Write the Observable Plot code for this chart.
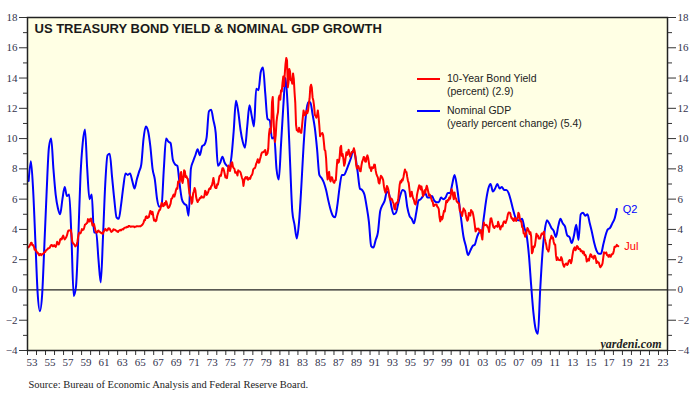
<!DOCTYPE html>
<html><head><meta charset="utf-8">
<script src="https://cdn.jsdelivr.net/npm/d3@7"></script>
<script src="https://cdn.jsdelivr.net/npm/@observablehq/plot@0.6"></script>
<style>
body{margin:0;background:#fff;}
#wrap{position:relative;width:700px;height:396px;overflow:hidden;}
.legend{position:absolute;left:417px;top:72px;font-family:"Liberation Sans",Arial,sans-serif;font-size:10.5px;color:#222;}
.item{position:relative;padding-left:30px;line-height:13px;margin-bottom:6px;}
.sw{position:absolute;left:0;top:6px;width:23px;height:2px;}
</style></head><body><div id="wrap"></div>
<script>
// ---- data ----
const titleText = "US TREASURY BOND YIELD & NOMINAL GDP GROWTH";
const sourceText = "Source: Bureau of Economic Analysis and Federal Reserve Board.";
const brandText = "yardeni.com";
const seriesNames = ["10-Year Bond Yield", "Nominal GDP"];
const seriesSubs = ["(percent) (2.9)", "(yearly percent change) (5.4)"];
const endLabels = ["Jul", "Q2"];
const seriesColors = ["#ff0000", "#0000ff"];

// 10-year Treasury yield, monthly, from Jan 1953
const yieldStart = 1953;
const bondYield = [
2.80,2.83,2.89,2.98,3.10,3.12,2.95,2.97,2.87,2.66,2.68,2.59,
2.48,2.47,2.37,2.29,2.37,2.38,2.30,2.36,2.38,2.43,2.48,2.51,
2.61,2.65,2.68,2.75,2.76,2.78,2.90,2.97,2.97,2.88,2.89,2.96,
2.90,2.84,2.96,3.18,3.07,3.00,3.11,3.33,3.38,3.34,3.49,3.59,
3.46,3.34,3.41,3.48,3.60,3.80,3.93,3.93,3.92,3.97,3.72,3.21,
3.09,3.05,2.98,2.88,2.92,2.97,3.20,3.54,3.76,3.80,3.74,3.86,
4.02,3.96,3.99,4.12,4.31,4.34,4.40,4.43,4.68,4.53,4.53,4.69,
4.72,4.49,4.25,4.28,4.35,4.15,3.90,3.80,3.80,3.89,3.93,3.84,
3.84,3.78,3.74,3.78,3.71,3.88,3.92,4.04,3.98,3.92,3.94,4.06,
4.08,4.04,3.93,3.84,3.87,3.91,4.01,3.98,3.98,3.93,3.92,3.86,
3.83,3.92,3.93,3.97,3.93,3.99,4.02,4.00,4.08,4.11,4.12,4.13,
4.17,4.15,4.22,4.23,4.20,4.17,4.19,4.19,4.20,4.19,4.15,4.18,
4.19,4.21,4.21,4.20,4.21,4.21,4.20,4.25,4.29,4.35,4.45,4.62,
4.61,4.83,4.87,4.75,4.78,4.81,5.02,5.22,5.18,5.01,5.16,4.84,
4.58,4.63,4.54,4.59,4.85,5.02,5.16,5.28,5.30,5.48,5.75,5.70,
5.53,5.56,5.74,5.64,5.87,5.72,5.50,5.42,5.46,5.58,5.70,6.03,
6.04,6.19,6.30,6.17,6.32,6.57,6.72,6.69,7.16,7.10,7.14,7.65,
7.79,7.24,7.07,7.39,7.91,7.84,7.46,7.53,7.39,7.33,6.84,6.39,
6.24,6.11,5.70,5.83,6.39,6.52,6.73,6.58,6.14,5.93,5.81,5.93,
5.95,6.08,6.07,6.19,6.13,6.11,6.11,6.21,6.55,6.48,6.28,6.36,
6.46,6.64,6.71,6.67,6.85,6.90,7.13,7.40,7.09,6.79,6.73,6.74,
6.99,6.96,7.21,7.51,7.58,7.54,7.81,8.04,8.04,7.90,7.68,7.43,
7.50,7.39,7.73,8.23,8.06,7.86,8.06,8.40,8.43,8.14,8.05,8.00,
7.74,7.79,7.73,7.56,7.90,7.86,7.83,7.77,7.59,7.41,7.29,6.87,
7.21,7.39,7.46,7.37,7.46,7.28,7.33,7.40,7.34,7.52,7.58,7.69,
7.96,8.03,8.04,8.15,8.35,8.46,8.64,8.41,8.42,8.64,8.81,9.01,
9.10,9.10,9.12,9.18,9.25,8.91,8.95,9.03,9.33,10.30,10.65,10.39,
10.80,12.41,12.75,11.47,10.18,9.78,10.25,11.10,11.51,11.75,12.68,12.84,
12.57,13.19,13.12,13.68,14.10,13.47,14.28,14.94,15.32,15.15,13.39,13.72,
14.59,14.43,13.86,13.87,13.62,14.30,13.95,13.06,12.34,10.91,10.55,10.54,
10.46,10.72,10.51,10.40,10.38,10.85,11.38,11.85,11.65,11.54,11.69,11.83,
11.67,11.84,12.32,12.63,13.41,13.56,13.36,12.72,12.52,12.16,11.57,11.50,
11.38,11.51,11.86,11.43,10.85,10.16,10.31,10.33,10.37,10.24,9.78,9.26,
9.19,8.70,7.78,7.30,7.71,7.80,7.30,7.17,7.45,7.43,7.25,7.11,
7.08,7.25,7.25,8.02,8.61,8.40,8.45,8.76,9.42,9.52,8.86,8.99,
8.67,8.21,8.37,8.72,9.09,8.92,9.06,9.26,8.98,8.80,8.96,9.11,
9.09,9.17,9.36,9.18,8.86,8.28,8.02,8.11,8.19,8.01,7.87,7.84,
8.21,8.47,8.59,8.79,8.76,8.48,8.47,8.75,8.89,8.72,8.39,8.08,
8.09,7.85,8.11,8.04,8.07,8.28,8.27,7.90,7.65,7.53,7.42,7.09,
7.03,7.34,7.54,7.48,7.39,7.26,6.84,6.59,6.42,6.59,6.87,6.77,
6.60,6.26,5.98,5.97,6.04,5.96,5.81,5.68,5.36,5.33,5.72,5.77,
5.75,5.97,6.48,6.97,7.18,7.10,7.30,7.24,7.46,7.74,7.96,7.81,
7.78,7.47,7.20,7.06,6.63,6.17,6.28,6.49,6.20,6.04,5.93,5.71,
5.65,5.81,6.27,6.51,6.74,6.91,6.87,6.64,6.83,6.53,6.20,6.30,
6.58,6.42,6.69,6.89,6.71,6.49,6.22,6.30,6.21,6.03,5.88,5.81,
5.54,5.57,5.65,5.64,5.65,5.50,5.46,5.34,4.81,4.53,4.83,4.65,
4.72,5.00,5.23,5.18,5.54,5.90,5.79,5.94,5.92,6.11,6.03,6.28,
6.66,6.52,6.26,5.99,6.44,6.10,6.05,5.83,5.80,5.74,5.72,5.24,
5.16,5.10,4.89,5.14,5.39,5.28,5.24,4.97,4.73,4.57,4.65,5.09,
5.04,4.91,5.28,5.21,5.16,4.93,4.65,4.26,3.87,3.94,4.05,4.03,
4.05,3.90,3.81,3.96,3.57,3.33,3.98,4.45,4.27,4.29,4.30,4.27,
4.15,4.08,3.83,4.35,4.72,4.73,4.50,4.28,4.13,4.10,4.19,4.23,
4.22,4.17,4.50,4.34,4.14,4.00,4.18,4.26,4.20,4.46,4.54,4.47,
4.42,4.57,4.72,4.99,5.11,5.11,5.09,4.88,4.72,4.73,4.60,4.56,
4.76,4.72,4.56,4.69,4.75,5.10,5.00,4.67,4.52,4.53,4.15,4.10,
3.74,3.74,3.51,3.68,3.88,4.10,4.01,3.89,3.69,3.81,3.53,2.42,
2.52,2.87,2.82,2.93,3.29,3.72,3.56,3.59,3.40,3.39,3.40,3.59,
3.73,3.69,3.73,3.85,3.42,3.20,3.01,2.70,2.65,2.54,2.76,3.29,
3.39,3.58,3.41,3.46,3.17,3.00,3.00,2.30,1.98,2.15,2.01,1.98,
1.97,1.97,2.17,2.05,1.80,1.62,1.53,1.68,1.72,1.75,1.65,1.72,
1.91,1.98,1.96,1.76,1.93,2.30,2.58,2.74,2.81,2.62,2.72,2.90,
2.86,2.71,2.72,2.71,2.56,2.60,2.54,2.42,2.53,2.30,2.33,2.21,
1.88,1.98,2.04,1.94,2.20,2.36,2.32,2.17,2.17,2.07,2.26,2.24,
2.09,1.78,1.89,1.81,1.81,1.64,1.50,1.56,1.63,1.76,2.14,2.49,
2.43,2.42,2.48,2.30,2.30,2.19,2.32,2.21,2.20,2.36,2.35,2.40,
2.58,2.86,2.84,2.87,2.98,2.91,2.89
];

// Nominal GDP, yearly % change, quarterly from 1953 Q1
const gdpStart = 1953;
const gdpGrowth = [
7.2,8.5,6.6,3.2,   -0.2,-1.4,-0.3,3.0,   6.5,9.4,10.0,8.0,   6.3,5.4,5.0,6.0,
6.8,6.2,6.3,3.5,   -0.4,0.2,3.3,7.5,     9.7,10.6,8.0,6.0,   6.3,3.8,3.8,2.0,
0.5,3.5,7.0,8.9,   9.0,7.5,6.0,4.8,      4.7,5.6,6.8,7.7,    7.6,7.7,7.2,6.7,
7.3,7.8,8.3,10.0,  10.8,10.5,9.5,8.0,    7.3,6.0,5.5,5.6,    8.0,10.0,9.8,9.7,
8.6,8.3,8.2,7.0,   6.0,5.7,5.6,4.9,      8.0,8.5,8.9,9.3,    8.9,9.5,9.6,10.1,
11.8,11.9,11.2,10.4, 8.2,8.4,8.8,8.4,    8.2,8.1,8.8,10.5,   12.5,11.8,10.6,9.8,
9.4,10.8,12.2,11.5, 10.8,13.3,13.2,14.4, 14.7,13.0,11.3,11.2, 10.0,10.1,8.0,7.3,
9.6,12.1,14.0,12.0, 8.5,5.2,4.3,3.4,     4.5,6.8,9.5,11.5,   12.4,12.4,11.6,10.7,
9.3,7.6,7.4,7.1,   6.6,5.9,5.3,4.9,      4.8,5.6,6.8,7.6,    7.6,7.9,8.3,8.7,
9.2,8.8,7.8,6.7,   6.6,6.3,5.5,4.5,      2.9,2.8,3.3,3.8,    5.2,5.6,5.9,6.5,
6.3,5.5,5.0,5.1,   5.7,6.3,6.6,6.5,      5.5,4.9,4.7,4.4,    5.1,5.9,6.0,6.2,
6.4,6.1,6.1,6.2,   5.9,5.8,5.8,6.1,      6.0,6.1,6.4,6.4,    7.0,7.6,6.9,5.8,
4.6,3.5,2.9,2.3,   2.6,2.9,3.0,3.5,      3.8,3.8,4.8,5.9,    6.7,7.0,6.5,6.7,
7.0,6.7,6.8,6.6,   6.6,6.4,5.9,5.3,      4.8,4.6,4.6,4.7,    4.1,3.6,2.3,0.3,
-1.5,-2.6,-2.9,0.0, 2.4,3.9,4.6,4.4,     4.1,3.9,3.5,4.2,    4.7,4.4,4.2,3.6,
3.5,3.1,3.6,4.3,   3.3,5.0,5.1,4.9,      5.0,4.4,3.8,3.1,    2.6,2.4,2.4,3.0,
3.6,4.0,4.1,4.4,   4.7,5.35
];

const yTicks = [-4,-2,0,2,4,6,8,10,12,14,16,18];
const yMinor = [-3,-1,1,3,5,7,9,11,13,15,17];
const xDomain = [1953, 2024];
const xLabelYears = d3.range(1953, 2024, 2);
const xTickYears = d3.range(1953, 2025, 1);

// ---- build ----
const bond = bondYield.map((v, i) => ({t: yieldStart + (i + 0.5) / 12, v}));
const gdp = gdpGrowth.map((v, i) => ({t: gdpStart + (i + 0.5) / 4, v}));
const ends = [
  {...bond[bond.length - 1], label: endLabels[0], c: seriesColors[0]},
  {...gdp[gdp.length - 1], label: endLabels[1], c: seriesColors[1]}
];

const tickColor = "#33334d";
const serif = "'Liberation Serif', 'Times New Roman', serif";
const sans = "'Liberation Sans', Arial, sans-serif";
const axisText = {fill: tickColor, fontSize: 11, fontFamily: serif, label: null};

const chart = Plot.plot({
  width: 700, height: 396,
  marginLeft: 27, marginRight: 33, marginTop: 17, marginBottom: 46,
  style: {background: "white", fontFamily: serif, fontSize: "11px", color: tickColor, overflow: "visible"},
  x: {domain: xDomain, label: null},
  y: {domain: [-4, 18], label: null},
  marks: [
    Plot.frame({fill: "#ffffe4", stroke: null}),
    Plot.axisY({anchor: "left", ticks: yTicks, tickSize: 8, tickPadding: 2, stroke: "#333", ...axisText}),
    Plot.axisY({anchor: "left", ticks: yMinor, tickSize: 4, tickFormat: () => "", stroke: "#333", label: null}),
    Plot.axisY({anchor: "right", ticks: yTicks, tickSize: 8, tickPadding: 2, stroke: "#333", ...axisText}),
    Plot.axisY({anchor: "right", ticks: yMinor, tickSize: 4, tickFormat: () => "", stroke: "#333", label: null}),
    Plot.axisX({ticks: xTickYears, tickSize: 5, tickFormat: () => "", stroke: "#333", label: null}),
    Plot.axisX({ticks: xLabelYears.map(y => y + 0.5), tickSize: 0, tickPadding: 8, ...axisText,
      tickFormat: d => String(Math.floor(d) % 100).padStart(2, "0")}),
    Plot.ruleY([0], {stroke: "#222", strokeWidth: 1.2}),
    Plot.line(gdp, {x: "t", y: "v", stroke: seriesColors[1], strokeWidth: 2, curve: "monotone-x"}),
    Plot.line(bond, {x: "t", y: "v", stroke: seriesColors[0], strokeWidth: 2}),
    Plot.text(ends, {x: "t", y: "v", text: "label", fill: "c", dx: 6, textAnchor: "start", fontFamily: sans, fontSize: 11}),
    Plot.text([titleText], {frameAnchor: "top-left", dx: 7, dy: 6, fontFamily: sans, fontWeight: "bold", fontSize: 13, fill: "#1a1a1a"}),
    Plot.text([brandText], {frameAnchor: "bottom-right", dx: -6, dy: -3, fontFamily: serif, fontStyle: "italic", fontWeight: "bold", fontSize: 12, fill: "#222"}),
    Plot.text([sourceText], {frameAnchor: "bottom-left", dx: 1, dy: 34, fontFamily: serif, fontSize: 10.5, fill: "#222", textAnchor: "start", lineAnchor: "middle"}),
    Plot.frame({stroke: "#222", strokeWidth: 1.5})
  ]
});

const wrap = document.getElementById("wrap");
wrap.appendChild(chart);

// legend
const leg = document.createElement("div");
leg.className = "legend";
seriesNames.forEach((n, i) => {
  const it = document.createElement("div");
  it.className = "item";
  const sw = document.createElement("div");
  sw.className = "sw";
  sw.style.background = seriesColors[i];
  it.appendChild(sw);
  const t1 = document.createElement("div"); t1.textContent = n;
  const t2 = document.createElement("div"); t2.textContent = seriesSubs[i];
  it.appendChild(t1); it.appendChild(t2);
  leg.appendChild(it);
});
wrap.appendChild(leg);
</script>
</body></html>
